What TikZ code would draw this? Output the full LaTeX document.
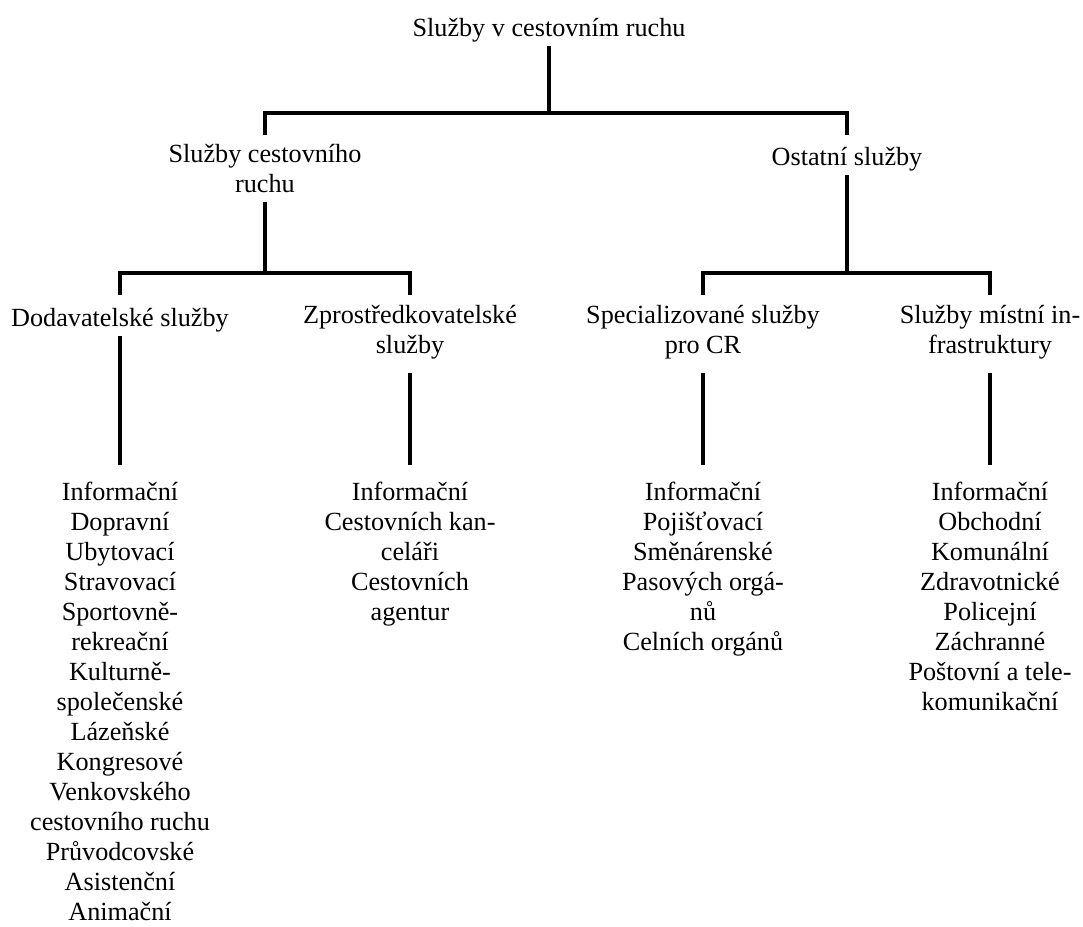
\documentclass[tikz,border=0pt]{standalone}
\usepackage{fontspec}
\setmainfont{LiberationSerif}[Extension=.ttf,UprightFont=*-Regular,BoldFont=*-Bold]

\begin{document}
\begin{tikzpicture}[x=0.5pt,y=-0.5pt,
  lbl/.style={align=center,inner sep=0pt,anchor=north,font=\fontsize{13.1}{15}\selectfont,
    execute at begin node=\strut,execute at end node=\strut},
  conn/.style={line width=2.2pt}]
  \path[use as bounding box] (0,0) rectangle (1083,927);

  % headings
  \node[lbl] (root) at (549,15) {Služby v cestovním ruchu};
  \node[lbl] (scr) at (265,144) {Služby cestovního\\ruchu};
  \node[lbl] (ost) at (847,144) {Ostatní služby};
  \node[lbl] (dod) at (120,305) {Dodavatelské služby};
  \node[lbl] (zpr) at (410,305) {Zprostředkovatelské\\služby};
  \node[lbl] (spec) at (703,305) {Specializované služby\\pro CR};
  \node[lbl] (mist) at (990,305) {Služby místní in-\\frastruktury};

  % lists
  \node[lbl] (dodl) at (120,482) {Informační\\Dopravní\\Ubytovací\\Stravovací\\Sportovně-\\rekreační\\Kulturně-\\společenské\\Lázeňské\\Kongresové\\Venkovského\\cestovního ruchu\\Průvodcovské\\Asistenční\\Animační};
  \node[lbl] (zprl) at (410,482) {Informační\\Cestovních kan-\\celáři\\Cestovních\\agentur};
  \node[lbl] (specl) at (703,482) {Informační\\Pojišťovací\\Směnárenské\\Pasových orgá-\\nů\\Celních orgánů};
  \node[lbl] (mistl) at (990,482) {Informační\\Obchodní\\Komunální\\Zdravotnické\\Policejní\\Záchranné\\Poštovní a tele-\\komunikační};

  \coordinate (b1) at (549,113);
  \coordinate (b2) at (265,273);
  \coordinate (b3) at (847,273);

  \draw[conn] (root) -- (b1);
  \draw[conn,shorten <=4.5pt,shorten >=4.5pt] (scr.north) |- (b1) -| (ost.north);
  \draw[conn] (scr) -- (b2);
  \draw[conn] (ost) -- (b3);
  \draw[conn,shorten <=5pt,shorten >=5pt] (dod.north) |- (b2) -| (zpr.north);
  \draw[conn,shorten <=5pt,shorten >=5pt] (spec.north) |- (b3) -| (mist.north);

  \draw[conn,shorten >=8.5pt] (dod) -- (dodl.north);
  \draw[conn,shorten <=5pt,shorten >=8.5pt] (zpr) -- (zprl.north);
  \draw[conn,shorten <=5pt,shorten >=8.5pt] (spec) -- (specl.north);
  \draw[conn,shorten <=5pt,shorten >=8.5pt] (mist) -- (mistl.north);
\end{tikzpicture}
\end{document}
